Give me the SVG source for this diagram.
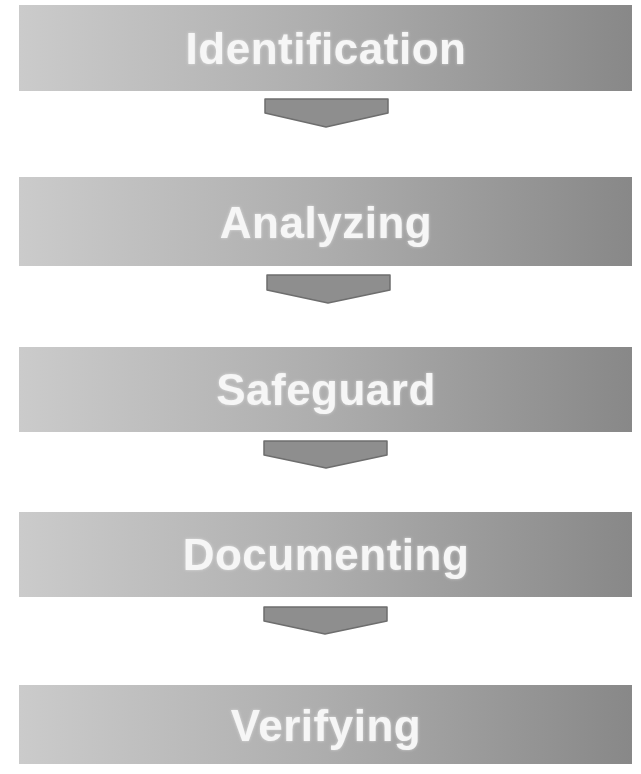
<svg xmlns="http://www.w3.org/2000/svg" width="641" height="774" viewBox="0 0 641 774">
<defs>
<linearGradient id="g" x1="0" y1="0" x2="1" y2="0">
<stop offset="0" stop-color="#cbcbcb"/>
<stop offset="0.5" stop-color="#adadad"/>
<stop offset="1" stop-color="#888888"/>
</linearGradient>
<filter id="glow" x="-10%" y="-30%" width="120%" height="160%">
<feGaussianBlur in="SourceAlpha" stdDeviation="1.5" result="b"/>
<feFlood flood-color="#ffffff" flood-opacity="0.5"/>
<feComposite in2="b" operator="in" result="c"/>
<feMerge><feMergeNode in="c"/><feMergeNode in="SourceGraphic"/></feMerge>
</filter>
</defs>
<style>
.box{fill:url(#g);}
.lbl{font-family:"Liberation Sans",Arial,sans-serif;font-weight:bold;font-size:44px;fill:#f6f6f6;text-anchor:middle;letter-spacing:0.5px;}
.arr{fill:#8e8e8e;stroke:#6e6e6e;stroke-width:1.5;stroke-linejoin:round;}
</style>
<rect width="641" height="774" fill="#ffffff"/>
<g id="n1"><rect class="box" x="19" y="5" width="613" height="86"/><text class="lbl" x="326" y="64" filter="url(#glow)">Identification</text></g>
<g id="n2"><rect class="box" x="19" y="177" width="613" height="89"/><text class="lbl" x="326" y="238" filter="url(#glow)">Analyzing</text></g>
<g id="n3"><rect class="box" x="19" y="347" width="613" height="85"/><text class="lbl" x="326" y="405" filter="url(#glow)">Safeguard</text></g>
<g id="n4"><rect class="box" x="19" y="512" width="613" height="85"/><text class="lbl" x="326" y="570" filter="url(#glow)">Documenting</text></g>
<g id="n5"><rect class="box" x="19" y="685" width="613" height="79"/><text class="lbl" x="326" y="741" filter="url(#glow)">Verifying</text></g>
<g id="connectors">
<path class="arr" d="M265 99 H388 V113 L326 127 L265 113 Z"/>
<path class="arr" d="M267 275 H390 V290 L328 303 L267 290 Z"/>
<path class="arr" d="M264 441 H387 V455 L326 468 L264 455 Z"/>
<path class="arr" d="M264 607 H387 V621 L325 634 L264 621 Z"/>
</g>
</svg>
